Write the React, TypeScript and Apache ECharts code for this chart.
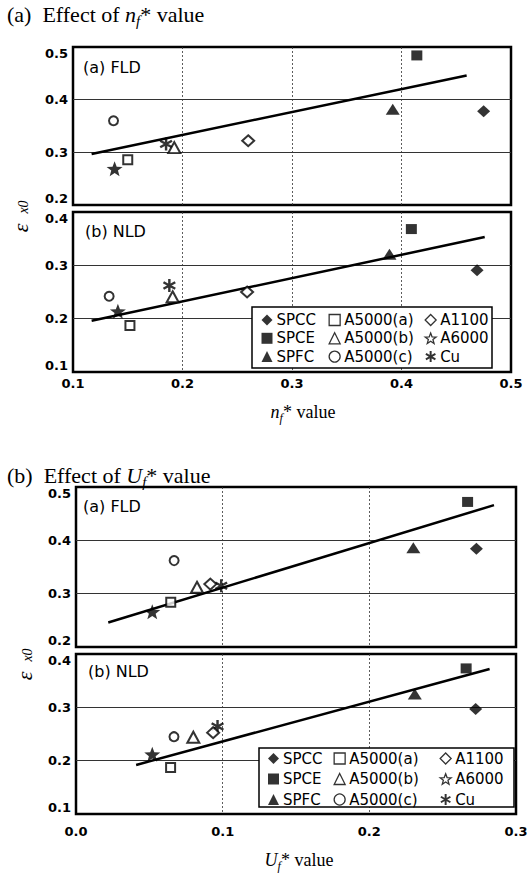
import React, { useEffect, useRef } from 'react';
import * as echarts from 'echarts';

// ---------- data ----------
const materials = ['SPCC', 'SPCE', 'SPFC', 'A5000(a)', 'A5000(b)', 'A5000(c)', 'A1100', 'A6000', 'Cu'];

// (a) Effect of nf* value
const nfFLD_x = [0.475, 0.414, 0.392, 0.150, 0.1925, 0.137, 0.260, 0.138, 0.185];
const nfFLD_y = [0.378, 0.484, 0.382, 0.286, 0.309, 0.360, 0.322, 0.269, 0.316];
const nfNLD_x = [0.469, 0.409, 0.389, 0.152, 0.191, 0.133, 0.259, 0.141, 0.188];
const nfNLD_y = [0.291, 0.368, 0.321, 0.187, 0.241, 0.242, 0.250, 0.214, 0.262];
const nfFLD_fit = [[0.117, 0.297], [0.4595, 0.446]];
const nfNLD_fit = [[0.117, 0.196], [0.476, 0.353]];

// (b) Effect of Uf* value
const ufFLD_x = [0.273, 0.267, 0.230, 0.0646, 0.0825, 0.0669, 0.0916, 0.052, 0.099];
const ufFLD_y = [0.384, 0.472, 0.386, 0.284, 0.312, 0.362, 0.318, 0.266, 0.315];
const ufNLD_x = [0.2725, 0.266, 0.231, 0.0645, 0.080, 0.0668, 0.0935, 0.052, 0.0965];
const ufNLD_y = [0.297, 0.373, 0.325, 0.187, 0.244, 0.245, 0.2525, 0.212, 0.264];
const ufFLD_fit = [[0.022, 0.246], [0.285, 0.466]];
const ufNLD_fit = [[0.041, 0.192], [0.282, 0.372]];

const nfRange = [0.1, 0.5];
const ufRange = [0.0, 0.3];
const fldRange = [0.2, 0.5];
const nldRange = [0.1, 0.4];

// ---------- styles ----------
const SANS = "'DejaVu Sans', sans-serif";
const SERIF = "'Liberation Serif', 'DejaVu Serif', serif";

const STAR =
  'path://M0,-10 L2.47,-3.4 L9.51,-3.09 L3.99,1.3 L5.88,8.09 L0,4.2 L-5.88,8.09 L-3.99,1.3 L-9.51,-3.09 L-2.47,-3.4 Z';
const ASTER =
  'path://M-1.8,-10 L1.8,-10 L1.8,10 L-1.8,10 Z M9.56,3.44 L7.76,6.56 L-9.56,-3.44 L-7.76,-6.56 Z M-7.76,6.56 L-9.56,3.44 L7.76,-6.56 L9.56,-3.44 Z';

const filled = { color: '#000', borderColor: '#000', borderWidth: 0 };
const open = { color: '#fff', borderColor: '#000', borderWidth: 2 };

const markerStyle: Record<string, any> = {
  SPCC: { symbol: 'diamond', size: [13, 12], item: filled },
  SPCE: { symbol: 'rect', size: [11, 10], item: filled },
  SPFC: { symbol: 'triangle', size: [14, 11], item: filled },
  'A5000(a)': { symbol: 'rect', size: [9, 9], item: open },
  'A5000(b)': { symbol: 'triangle', size: [12, 11], item: open },
  'A5000(c)': { symbol: 'circle', size: [9, 9], item: open },
  A1100: { symbol: 'diamond', size: [12, 11], item: open },
  A6000: { symbol: STAR, size: [16, 15], item: filled },
  Cu: { symbol: ASTER, size: [13, 13], item: filled },
};

const drawOrder = ['SPCC', 'SPCE', 'SPFC', 'Cu', 'A6000', 'A5000(a)', 'A5000(b)', 'A5000(c)', 'A1100'];

const legendOpen = { color: '#fff', borderColor: '#000', borderWidth: 1.3 };
const legendIcons: Record<string, any> = {
  SPCC: { icon: 'diamond', itemStyle: filled },
  SPCE: { icon: 'rect', itemStyle: filled },
  SPFC: { icon: 'triangle', itemStyle: filled },
  'A5000(a)': { icon: 'rect', itemStyle: legendOpen },
  'A5000(b)': { icon: 'triangle', itemStyle: legendOpen },
  'A5000(c)': { icon: 'circle', itemStyle: legendOpen },
  A1100: { icon: 'diamond', itemStyle: legendOpen },
  A6000: { icon: STAR, itemStyle: legendOpen },
  Cu: { icon: ASTER, itemStyle: filled },
};

const legendColumns = [
  ['SPCC', 'SPCE', 'SPFC'],
  ['A5000(a)', 'A5000(b)', 'A5000(c)'],
  ['A1100', 'A6000', 'Cu'],
];

function makeAxisX(gridIndex: number, range: number[], showLabel: boolean, margin: number) {
  return {
    type: 'value',
    gridIndex,
    min: range[0],
    max: range[1],
    interval: 0.1,
    axisLine: { show: false },
    axisTick: { show: false },
    axisLabel: {
      show: showLabel,
      margin,
      formatter: (v: number) => v.toFixed(1),
      fontFamily: SANS,
      fontWeight: 'bold',
      fontSize: 13,
      color: '#000',
    },
    splitLine: {
      show: true,
      showMinLine: false,
      showMaxLine: false,
      lineStyle: { color: '#333', width: 0.8, type: [2, 2] },
    },
  };
}

function makeAxisY(gridIndex: number, range: number[]) {
  return {
    type: 'value',
    gridIndex,
    min: range[0],
    max: range[1],
    interval: 0.1,
    axisLine: { show: false },
    axisTick: { show: false },
    axisLabel: {
      margin: 5,
      formatter: (v: number) => v.toFixed(1),
      fontFamily: SANS,
      fontWeight: 'bold',
      fontSize: 13,
      color: '#000',
      verticalAlignMinLabel: 'bottom',
      verticalAlignMaxLabel: 'top',
    },
    splitLine: {
      show: true,
      showMinLine: false,
      showMaxLine: false,
      lineStyle: { color: '#333', width: 1 },
    },
  };
}

function panelSeries(gridIndex: number, xs: number[], ys: number[], fit: number[][]) {
  const out: any[] = [
    {
      type: 'line',
      name: 'fit' + gridIndex,
      xAxisIndex: gridIndex,
      yAxisIndex: gridIndex,
      data: fit,
      symbol: 'none',
      silent: true,
      z: 1,
      lineStyle: { color: '#000', width: 2.5 },
    },
  ];
  drawOrder.forEach((name) => {
    const i = materials.indexOf(name);
    const m = markerStyle[name];
    out.push({
      type: 'scatter',
      name,
      xAxisIndex: gridIndex,
      yAxisIndex: gridIndex,
      data: [[xs[i], ys[i]]],
      symbol: m.symbol,
      symbolSize: m.size,
      itemStyle: m.item,
      z: 2,
    });
  });
  return out;
}

function makeLegends(lefts: number[], top: number, gap: number) {
  return legendColumns.map((col, ci) => ({
    orient: 'vertical',
    left: lefts[ci],
    top,
    itemWidth: 11,
    itemHeight: 11,
    itemGap: gap,
    selectedMode: false,
    padding: 0,
    textStyle: { fontFamily: SANS, fontSize: 15, color: '#000', padding: [0, 0, 0, -1] },
    data: col.map((n) => ({ name: n, icon: legendIcons[n].icon, itemStyle: legendIcons[n].itemStyle })),
    z: 5,
  }));
}

function richTitle(prefix: string, sym: string, sub: string, x: number, y: number, align: string, size: number) {
  return {
    type: 'text',
    x,
    y,
    z: 10,
    style: {
      text: `{a|${prefix}}{i|${sym}}{s|${sub}}{a|* value}`,
      align,
      verticalAlign: 'middle',
      fill: '#000',
      rich: {
        a: { fontFamily: SERIF, fontSize: size, lineHeight: size + 6, fill: '#000' },
        i: { fontFamily: SERIF, fontSize: size, fontStyle: 'italic', lineHeight: size + 6, fill: '#000' },
        s: { fontFamily: SERIF, fontSize: Math.round(size * 0.66), fontStyle: 'italic', lineHeight: Math.round(size * 0.72), verticalAlign: 'bottom', fill: '#000' },
      },
    },
  };
}

// rotated ε_x0 axis name: a rotated group holding two plain texts
function yName(x: number, y: number) {
  return {
    type: 'group',
    x,
    y,
    rotation: Math.PI / 2,
    z: 10,
    children: [
      {
        type: 'text',
        x: -12,
        y: 0,
        style: { text: 'ε', fontFamily: SERIF, fontSize: 22, fontStyle: 'italic', fill: '#000', align: 'center', verticalAlign: 'middle' },
      },
      {
        type: 'text',
        x: 9,
        y: 3,
        style: { text: 'x0', fontFamily: SERIF, fontSize: 14, fontStyle: 'italic', fill: '#000', align: 'center', verticalAlign: 'middle' },
      },
    ],
  };
}

function panelLabel(text: string, x: number, y: number) {
  return {
    type: 'text',
    x,
    y,
    z: 10,
    style: { text, fontFamily: SANS, fontSize: 16, fill: '#000', align: 'left', verticalAlign: 'middle' },
  };
}

function legendBox(x: number, y: number, w: number, h: number) {
  return {
    type: 'rect',
    z: 3,
    shape: { x, y, width: w, height: h },
    style: { fill: '#fff', stroke: '#000', lineWidth: 1.5 },
  };
}

export default function App() {
  const ref = useRef<HTMLDivElement>(null);
  useEffect(() => {
    if (!ref.current) return;
    const chart = echarts.init(ref.current, null, { renderer: 'svg' });
    const grids = [
      { left: 73, top: 47, width: 438, height: 158 },
      { left: 73, top: 212, width: 438, height: 160 },
      { left: 76, top: 487, width: 440, height: 160 },
      { left: 76, top: 654, width: 440, height: 160 },
    ].map((g) => ({ ...g, show: true, borderColor: '#000', borderWidth: 2.5, backgroundColor: 'transparent', containLabel: false, outerBoundsMode: 'none' }));
    const option: any = {
      animation: false,
      backgroundColor: '#fff',
      grid: grids,
      xAxis: [
        makeAxisX(0, nfRange, false, 4),
        makeAxisX(1, nfRange, true, 5),
        makeAxisX(2, ufRange, false, 4),
        makeAxisX(3, ufRange, true, 11),
      ],
      yAxis: [makeAxisY(0, fldRange), makeAxisY(1, nldRange), makeAxisY(2, fldRange), makeAxisY(3, nldRange)],
      legend: [
        ...makeLegends([261.5, 328.5, 424.5], 312.5, 3.3),
        ...makeLegends([268, 333.5, 439.5], 751, 5.5),
      ],
      series: [
        ...panelSeries(0, nfFLD_x, nfFLD_y, nfFLD_fit),
        ...panelSeries(1, nfNLD_x, nfNLD_y, nfNLD_fit),
        ...panelSeries(2, ufFLD_x, ufFLD_y, ufFLD_fit),
        ...panelSeries(3, ufNLD_x, ufNLD_y, ufNLD_fit),
      ],
      graphic: [
        richTitle('(a)  Effect of ', 'n', 'f', 7, 14, 'left', 22),
        richTitle('', 'n', 'f', 303, 412, 'center', 18),
        richTitle('(b)  Effect of ', 'U', 'f', 7, 475, 'left', 22),
        richTitle('', 'U', 'f', 299, 860, 'center', 18),
        yName(20, 216),
        yName(24, 664),
        panelLabel('(a) FLD', 83, 67),
        panelLabel('(b) NLD', 85, 231),
        panelLabel('(a) FLD', 83, 506),
        panelLabel('(b) NLD', 88, 671),
        legendBox(252, 307, 240, 61),
        legendBox(259, 748, 255, 59),
      ],
    };
    chart.setOption(option);
    return () => chart.dispose();
  }, []);
  return <div ref={ref} style={{ position: 'fixed', left: 0, top: 0, width: 530, height: 874 }} />;
}
